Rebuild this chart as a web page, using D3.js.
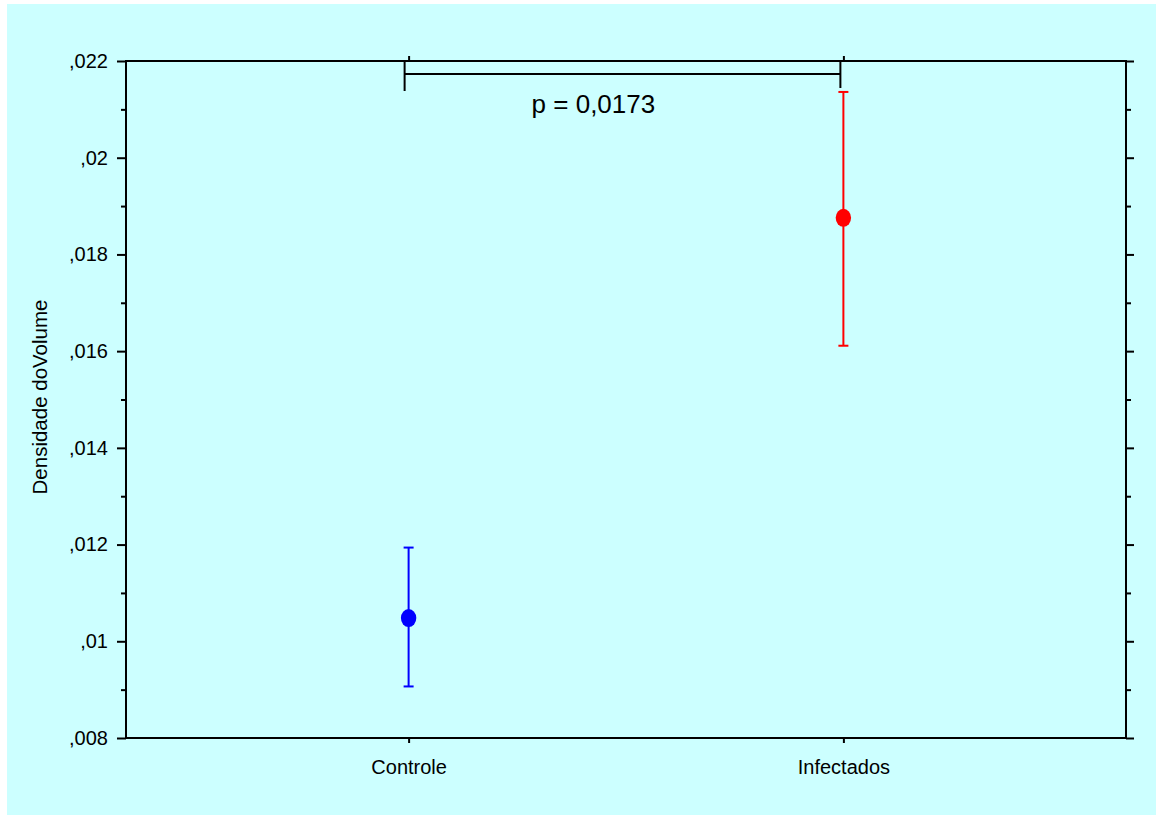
<!DOCTYPE html>
<html lang="pt">
<head>
<meta charset="utf-8">
<title>Densidade do Volume</title>
<script src="https://d3js.org/d3.v7.min.js"></script>
<style>
  body { margin: 0; background: #fff; }
  text { font-family: "Liberation Sans", Arial, sans-serif; fill: #000; }
</style>
</head>
<body>
<div id="chart"></div>
<script>
// data
const categories = ["Controle", "Infectados"];
const means = [0.01048, 0.018756];
const upper = [0.011938, 0.02136];
const lower = [0.009066, 0.016112];
const colors = ["#0000ff", "#ff0000"];
const majorTicks = [0.008, 0.010, 0.012, 0.014, 0.016, 0.018, 0.020, 0.022];
const tickLabels = [",008", ",01", ",012", ",014", ",016", ",018", ",02", ",022"];
const minorTicks = [0.009, 0.011, 0.013, 0.015, 0.017, 0.019, 0.021];
const yTitle = "Densidade doVolume";
const pLabel = "p = 0,0173";

const W = 1156, H = 815;
const margin = {top: 61, right: 30, bottom: 77, left: 126};
const width = W - margin.left - margin.right,
      height = H - margin.top - margin.bottom;

const svg = d3.select("#chart").append("svg")
  .attr("width", W).attr("height", H);

svg.append("rect")
  .attr("x", 7).attr("y", 4)
  .attr("width", W - 7).attr("height", H - 4)
  .attr("fill", "#ccffff");

const g = svg.append("g")
  .attr("transform", `translate(${margin.left},${margin.top})`);

const x = d3.scalePoint().domain(categories).range([0, width]).padding(0.65);
const y = d3.scaleLinear().domain([0.008, 0.022]).range([height, 0]);

// frame
g.append("rect")
  .attr("width", width).attr("height", height)
  .attr("fill", "none").attr("stroke", "#000").attr("stroke-width", 2);

// y axis left, major ticks
g.append("g")
  .call(d3.axisLeft(y).tickValues(majorTicks).tickSize(9).tickPadding(9)
    .tickFormat((d, i) => tickLabels[i]))
  .call(a => a.select(".domain").remove())
  .call(a => a.selectAll("line").attr("stroke-width", 2))
  .call(a => a.selectAll("text").attr("font-size", 20).attr("fill", "#000"));

// y axis left, minor ticks
g.append("g")
  .call(d3.axisLeft(y).tickValues(minorTicks).tickSize(5).tickFormat(""))
  .call(a => a.select(".domain").remove())
  .call(a => a.selectAll("line").attr("stroke-width", 2));

// y axis right
g.append("g").attr("transform", `translate(${width},0)`)
  .call(d3.axisRight(y).tickValues(majorTicks).tickSize(8).tickFormat(""))
  .call(a => a.select(".domain").remove())
  .call(a => a.selectAll("line").attr("stroke-width", 2));
g.append("g").attr("transform", `translate(${width},0)`)
  .call(d3.axisRight(y).tickValues(minorTicks).tickSize(5).tickFormat(""))
  .call(a => a.select(".domain").remove())
  .call(a => a.selectAll("line").attr("stroke-width", 2));

// x axis bottom
g.append("g").attr("transform", `translate(0,${height})`)
  .call(d3.axisBottom(x).tickSize(5).tickPadding(17))
  .call(a => a.select(".domain").remove())
  .call(a => a.selectAll("line").attr("stroke-width", 2))
  .call(a => a.selectAll("text").attr("font-size", 20).attr("fill", "#000"));

// x axis top
g.append("g")
  .call(d3.axisTop(x).tickSize(5).tickFormat(""))
  .call(a => a.select(".domain").remove())
  .call(a => a.selectAll("line").attr("stroke-width", 2));

// y title
svg.append("text")
  .attr("transform", `translate(47,397) rotate(-90)`)
  .attr("text-anchor", "middle")
  .attr("font-size", 20.5)
  .text(yTitle);

// error bars
const pts = categories.map((c, i) => ({c, m: means[i], lo: lower[i], hi: upper[i], col: colors[i]}));
const eb = g.selectAll(".eb").data(pts).join("g").attr("class", "eb");
eb.append("line")
  .attr("x1", d => x(d.c)).attr("x2", d => x(d.c))
  .attr("y1", d => y(d.lo)).attr("y2", d => y(d.hi))
  .attr("stroke", d => d.col).attr("stroke-width", 2);
eb.selectAll(".cap").data(d => [d.lo, d.hi].map(v => ({v, d}))).join("line")
  .attr("class", "cap")
  .attr("x1", e => x(e.d.c) - 5).attr("x2", e => x(e.d.c) + 5)
  .attr("y1", e => y(e.v)).attr("y2", e => y(e.v))
  .attr("stroke", e => e.d.col).attr("stroke-width", 2);
eb.append("ellipse")
  .attr("cx", d => x(d.c)).attr("cy", d => y(d.m))
  .attr("rx", 7.7).attr("ry", 9)
  .attr("fill", d => d.col);

// significance bracket
const bx0 = x(categories[0]) - 4, bx1 = x(categories[1]) - 3;
const br = g.append("g").attr("stroke", "#000").attr("stroke-width", 2).attr("fill", "none");
br.append("line").attr("x1", bx0).attr("x2", bx1).attr("y1", 13).attr("y2", 13);
br.append("line").attr("x1", bx0).attr("x2", bx0).attr("y1", 1).attr("y2", 30);
br.append("line").attr("x1", bx1).attr("x2", bx1).attr("y1", -1).attr("y2", 27);
g.append("text")
  .attr("x", bx0 + 127).attr("y", 52)
  .attr("font-size", 26)
  .text(pLabel);
</script>
</body>
</html>
